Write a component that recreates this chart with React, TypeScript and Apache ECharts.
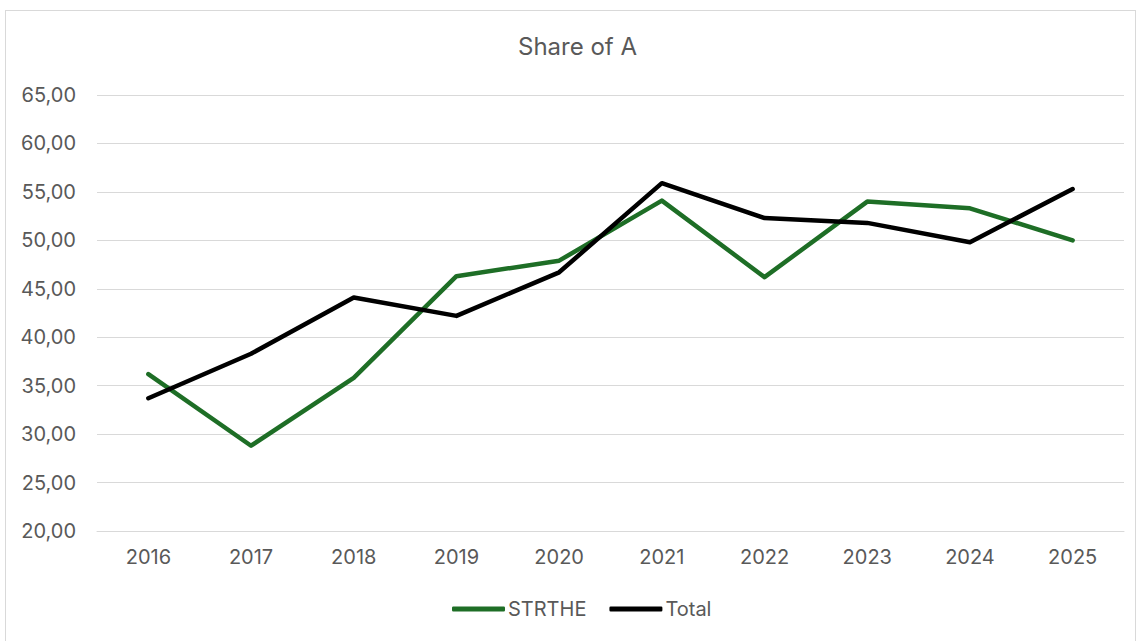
import React, { useEffect, useRef } from "react";
import * as echarts from "echarts";

const categories = ["2016", "2017", "2018", "2019", "2020", "2021", "2022", "2023", "2024", "2025"];
const strtheValues = [36.2, 28.8, 35.8, 46.3, 47.9, 54.1, 46.2, 54.0, 53.3, 50.0];
const totalValues = [33.7, 38.3, 44.1, 42.2, 46.7, 55.9, 52.3, 51.8, 49.8, 55.3];
const seriesNames = ["STRTHE", "Total"];

export default function App() {
  const ref = useRef<HTMLDivElement>(null);
  useEffect(() => {
    if (!ref.current) return;
    const chart = echarts.init(ref.current, null, { renderer: "svg" });
    const font = "Inter, 'Open Sans', sans-serif";
    chart.setOption({
      animation: false,
      backgroundColor: "#ffffff",
      textStyle: { fontFamily: font },
      title: {
        text: "Share of A",
        left: 507,
        top: 18,
        textStyle: { fontSize: 24, fontWeight: "normal", color: "#595959", fontFamily: font },
      },
      grid: { left: 91, width: 1027, top: 84, height: 436 },
      legend: {
        bottom: 17,
        left: 441,
        itemWidth: 53,
        itemHeight: 5,
        itemGap: 23,
        icon: "roundRect",
        textStyle: { fontSize: 20, color: "#595959", fontFamily: font, padding: [0, 0, 0, -2] },
        data: seriesNames,
      },
      xAxis: {
        type: "category",
        data: categories,
        boundaryGap: true,
        axisLine: { show: true, lineStyle: { color: "#d9d9d9", width: 1 } },
        axisTick: { show: false },
        axisLabel: { fontSize: 20, color: "#595959", margin: 16, fontFamily: font },
      },
      yAxis: {
        type: "value",
        min: 20,
        max: 65,
        interval: 5,
        axisLine: { show: false },
        axisTick: { show: false },
        splitLine: { lineStyle: { color: "#d9d9d9", width: 1 } },
        axisLabel: {
          fontSize: 20,
          color: "#595959",
          margin: 21,
          fontFamily: font,
          formatter: (v: number) => v.toFixed(2).replace(".", ","),
        },
      },
      series: [
        {
          name: seriesNames[0],
          type: "line",
          data: strtheValues,
          symbol: "none",
          lineStyle: { color: "#1e6e26", width: 4.5, cap: "round", join: "round" },
          itemStyle: { color: "#1e6e26" },
        },
        {
          name: seriesNames[1],
          type: "line",
          data: totalValues,
          symbol: "none",
          lineStyle: { color: "#000000", width: 4.5, cap: "round", join: "round" },
          itemStyle: { color: "#000000" },
        },
      ],
    });
    return () => chart.dispose();
  }, []);
  return (
    <div style={{ position: "fixed", left: 0, top: 0, width: 1144, height: 641, background: "#fff" }}>
      <div
        style={{
          position: "absolute",
          left: 5,
          top: 10,
          width: 1131,
          height: 640,
          border: "1px solid #d9d9d9",
          boxSizing: "border-box",
        }}
      />
      <div ref={ref} style={{ position: "absolute", left: 6, top: 11, width: 1129, height: 630 }} />
    </div>
  );
}
